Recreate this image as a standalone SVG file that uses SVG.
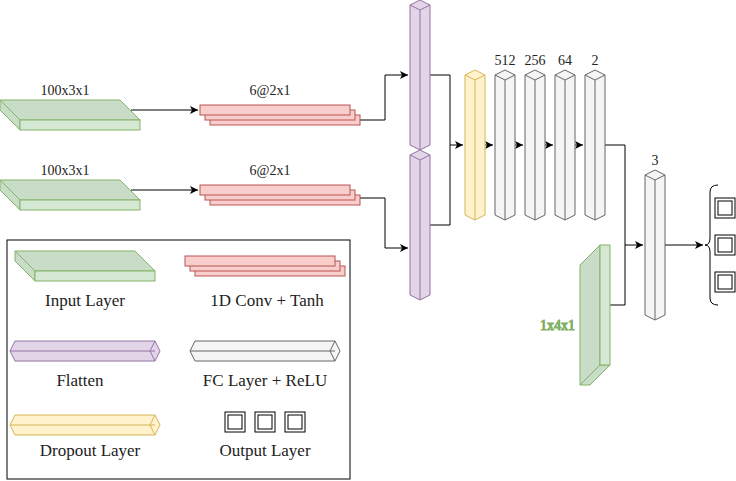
<svg xmlns="http://www.w3.org/2000/svg" width="736" height="481" viewBox="0 0 736 481">
<defs>
<marker id="ah" markerWidth="10" markerHeight="10" refX="9" refY="5" orient="auto" markerUnits="userSpaceOnUse"><path d="M1,1 L9,5 L1,9 L3,5 Z" fill="#000"/></marker>
<g id="vcol"><path d="M0,5 L10,0 L20,5 L20,145 L10,150 L0,145 Z"/><path d="M0,5 L10,10 L20,5 M10,10 V150" fill="none"/></g>
<g id="hbar"><path d="M5,0 H145 L150,10 L145,20 H5 L0,10 Z"/><path d="M0,10 H145 M145,0 L140,10 L145,20" fill="none"/></g>
<g id="inp"><path d="M0,0 H120 L140,20 H20 Z" fill="#c9dcc8"/><path d="M0,0 L20,20 V30 L0,10 Z" fill="#c9dcc8"/><rect x="20" y="20" width="120" height="10" fill="#d5e8d4"/></g>
<g id="conv"><rect x="10" y="10" width="150" height="10"/><rect x="5" y="5" width="150" height="10"/><rect x="0" y="0" width="150" height="10"/></g>
<g id="outbox"><rect x="0" y="0" width="20" height="20" fill="#fff" stroke="#000" stroke-width="1"/><rect x="3" y="3" width="14" height="14" fill="none" stroke="#000" stroke-width="1"/></g>
</defs>
<style>
text{font-family:"Liberation Serif","Times New Roman",serif;fill:#222}
.s{font-size:14px;text-anchor:middle}
.l{font-size:17px;text-anchor:middle}
.green{stroke:#82b366;stroke-width:1}
.red{fill:#f8cecc;stroke:#b85450}
.pur{fill:#e1d5e7;stroke:#9673a6}
.yel{fill:#fff2cc;stroke:#d6b656}
.gry{fill:#f5f5f5;stroke:#666}
.c{fill:none;stroke:#000;stroke-width:1}
</style>
<g id="connectors">
<path class="c" d="M131,110 H198" marker-end="url(#ah)"/>
<path class="c" d="M131,190 H198" marker-end="url(#ah)"/>
<path class="c" d="M360,120 H385 V75 H408" marker-end="url(#ah)"/>
<path class="c" d="M360,198 H385 V248 H408" marker-end="url(#ah)" style="stroke:#000"/>
<path class="c" d="M430,75 H450 V225 H430 M450,145 H463" marker-end="url(#ah)"/>
<path class="c" d="M485,145 H493" marker-end="url(#ah)"/>
<path class="c" d="M515,145 H523" marker-end="url(#ah)"/>
<path class="c" d="M545,145 H553" marker-end="url(#ah)"/>
<path class="c" d="M575,145 H583" marker-end="url(#ah)"/>
<path class="c" d="M605,145 H625 V305 H610 M625,245 H643" marker-end="url(#ah)"/>
<path class="c" d="M665,245 H703" marker-end="url(#ah)"/>
</g>
<g id="input1"><use href="#inp" x="0" y="100" class="green"/><text class="s" x="65" y="95">100x3x1</text></g>
<g id="input2"><use href="#inp" x="0" y="180" class="green"/><text class="s" x="65" y="175">100x3x1</text></g>
<g id="conv1"><use href="#conv" x="200" y="105" class="red"/><text class="s" x="270" y="95">6@2x1</text></g>
<g id="conv2"><use href="#conv" x="200" y="185" class="red"/><text class="s" x="270" y="175">6@2x1</text></g>
<g id="flatten1"><use href="#vcol" x="410" y="0" class="pur"/></g>
<g id="flatten2"><use href="#vcol" x="410" y="150" class="pur"/></g>
<g id="dropout"><use href="#vcol" x="465" y="70" class="yel"/></g>
<g id="fc512"><use href="#vcol" x="495" y="70" class="gry"/><text class="s" x="505" y="65">512</text></g>
<g id="fc256"><use href="#vcol" x="525" y="70" class="gry"/><text class="s" x="535" y="65">256</text></g>
<g id="fc64"><use href="#vcol" x="555" y="70" class="gry"/><text class="s" x="565" y="65">64</text></g>
<g id="fc2"><use href="#vcol" x="585" y="70" class="gry"/><text class="s" x="595" y="65">2</text></g>
<g id="fc3"><use href="#vcol" x="645" y="170" class="gry"/><text class="s" x="655" y="165">3</text></g>
<g id="input3" class="green">
<path d="M580,265 L600,245 V365 L580,385 Z" fill="#c9dcc8"/>
<path d="M580,385 L600,365 H610 L590,385 Z" fill="#c9dcc8"/>
<rect x="600" y="245" width="10" height="120" fill="#d5e8d4"/>
<text x="575" y="330" style="font-size:14px;text-anchor:end">1x4x1</text>
</g>
<g id="output">
<path d="M718,185 Q710,185 710,192 V238 Q710,245 705,245 Q710,245 710,252 V298 Q710,305 718,305" fill="none" stroke="#000"/>
<use href="#outbox" x="715" y="198"/>
<use href="#outbox" x="715" y="235"/>
<use href="#outbox" x="715" y="272"/>
</g>
<g id="legend">
<rect x="7" y="240" width="343" height="239" fill="#fff" stroke="#000"/>
<use href="#inp" x="15" y="251" class="green"/>
<text class="l" x="85" y="306">Input Layer</text>
<use href="#conv" x="185" y="256" class="red"/>
<text class="l" x="267" y="306">1D Conv + Tanh</text>
<use href="#hbar" x="10" y="341" class="pur"/>
<text class="l" x="80" y="386">Flatten</text>
<use href="#hbar" x="190" y="341" class="gry"/>
<text class="l" x="265" y="386">FC Layer + ReLU</text>
<use href="#hbar" x="10" y="415" class="yel"/>
<text class="l" x="90" y="456">Dropout Layer</text>
<use href="#outbox" x="225" y="412"/>
<use href="#outbox" x="255" y="412"/>
<use href="#outbox" x="285" y="412"/>
<text class="l" x="265" y="456">Output Layer</text>
</g>
</svg>
